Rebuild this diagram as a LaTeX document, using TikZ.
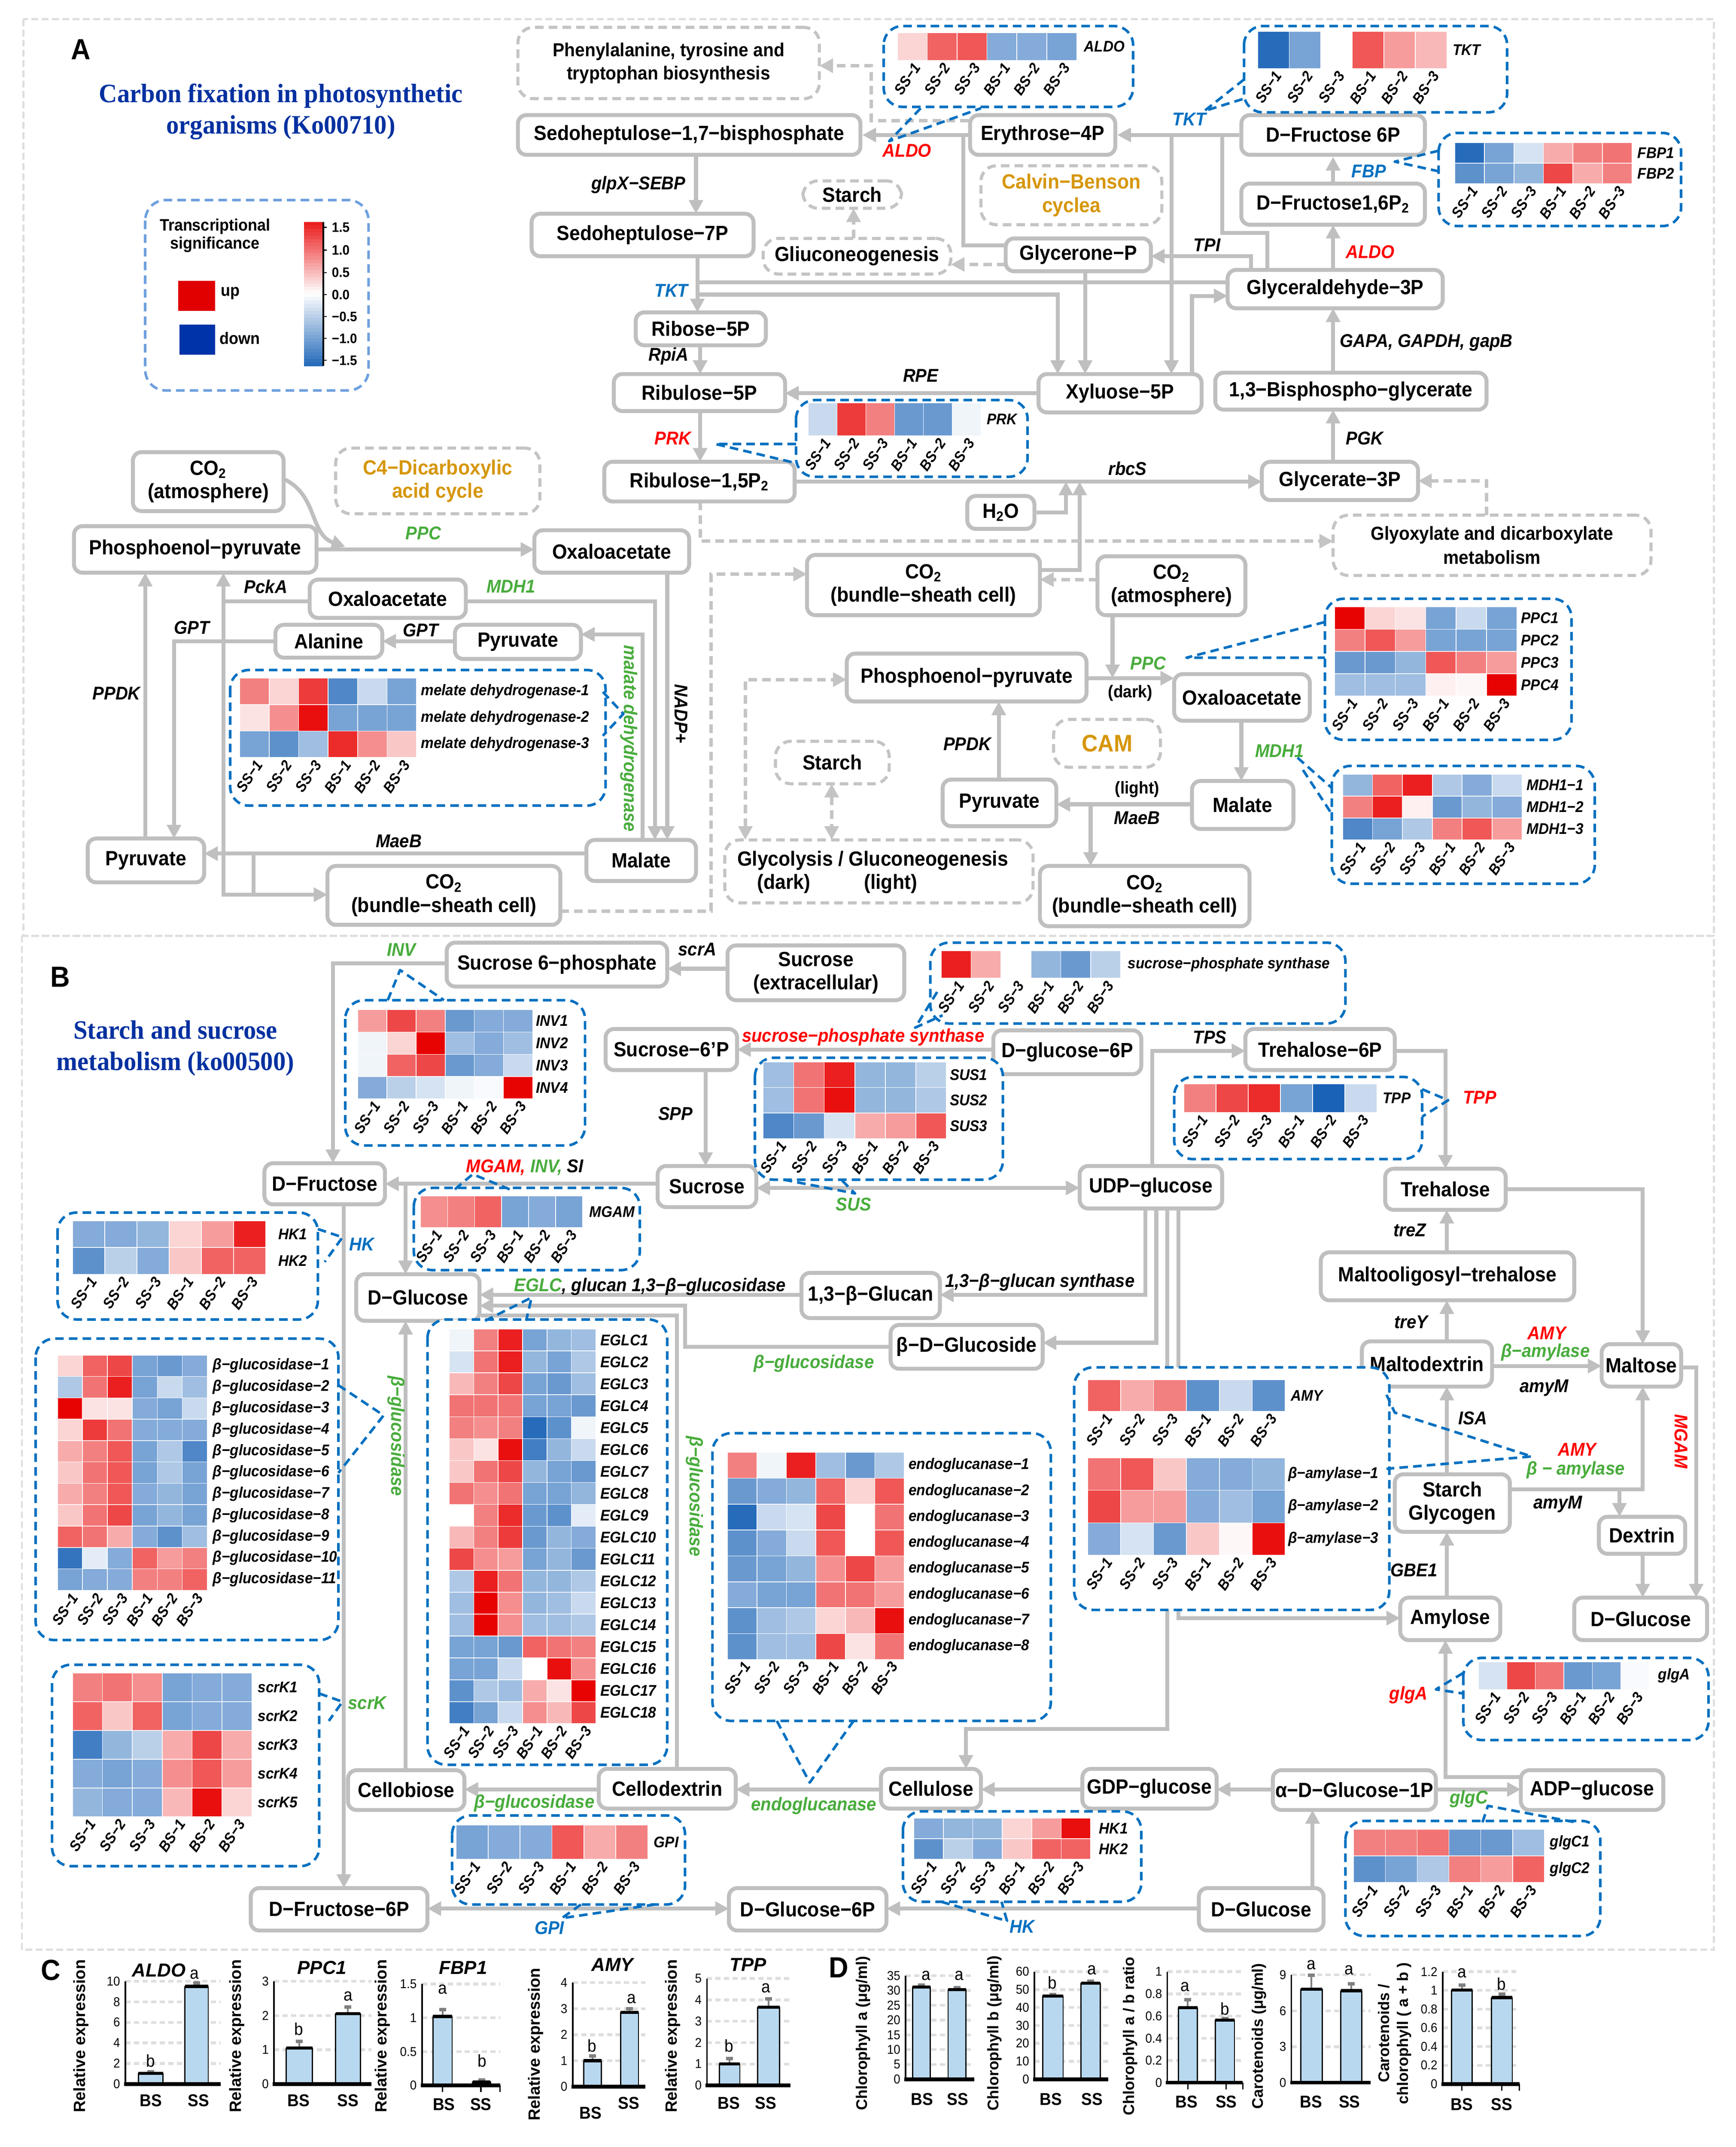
\documentclass[tikz,border=0pt]{standalone}
\usepackage{fontspec}
\setmainfont{Liberation Sans}[FakeStretch=0.93]
\newfontfamily\wide{Liberation Sans}
\newfontfamily\tnr{Liberation Serif}[FakeStretch=0.95]
\usetikzlibrary{arrows.meta,backgrounds}
\definecolor{bgray}{RGB}{191,191,191}
\definecolor{dgray}{RGB}{196,196,196}
\definecolor{fgray}{RGB}{222,222,222}
\definecolor{hblue}{RGB}{0,112,192}
\definecolor{lblue}{RGB}{110,160,222}
\definecolor{tblue}{RGB}{0,48,160}
\definecolor{gold}{RGB}{214,150,10}
\definecolor{egreen}{RGB}{72,172,60}
\definecolor{ered}{RGB}{255,0,0}
\definecolor{eblue}{RGB}{0,112,192}
\definecolor{hr}{RGB}{232,0,0}
\definecolor{hb}{RGB}{10,88,178}
\definecolor{upred}{RGB}{224,0,0}
\definecolor{dnblue}{RGB}{0,51,170}
\definecolor{barblue}{RGB}{184,216,240}
\definecolor{errc}{RGB}{128,128,128}
\newcommand\B[7]{\node[#1, minimum width={(#5-#3)*0.8pt}, minimum height={(#6-#4)*0.8pt}] (#2) at ({(#3+#5)/2},{(#4+#6)/2}) {#7};}
\newcommand\E[4][]{\node[enz,#1] (#2) at (#3) {#4};}
\newcommand\heat[5]{%
  \foreach \hmrow [count=\hmr] in {#5} {%
    \foreach \hmv [count=\hmc] in \hmrow {%
      \pgfmathtruncatemacro\hmA{round(abs(\hmv)*11)}%
      \ifdim\hmv pt<0pt\def\hmC{hb}\else\def\hmC{hr}\fi
      \path[fill=\hmC!\hmA!white, draw=white, line width=0.4pt] ({#1+(\hmc-1)*#3},{#2+(\hmr-1)*#4}) rectangle ++(#3,#4);
    }%
  }%
}
\newcommand\rowlabs[5]{\foreach \hmt [count=\hmi] in {#4} {\node[hl] (#5r\hmi) at (#1,{#2+(\hmi-0.5)*#3}) {\hmt};}}
\newcommand\collabs[4]{\foreach \hmt [count=\hmi] in {SS−1,SS−2,SS−3,BS−1,BS−2,BS−3} {\node[cl] (#4c\hmi) at ({#1+(\hmi-0.5)*#3+3.5},#2) {\hmt};}}
\newcommand\cgrid[4]{%
  \foreach \hmt [count=\hmi] in {#3} {%
    \pgfmathsetmacro\yy{\Yz-(\hmt)/\Vm*(\Yz-\Yt)}%
    \draw[gridl] (#1,\yy) -- (#2,\yy);
    \node[tk] (#4t\hmi) at (#1-3,\yy) {\hmt};
  }}
\newcommand\axl[2]{\draw[line width=0.9pt] (#1,\Yt) -- (#1,\Yz); \draw[line width=2.2pt] (#1-1,\Yz) -- (#2,\Yz);}
\newcommand\vbar[4]{%
  \pgfmathsetmacro\yv{\Yz-(#3)/\Vm*(\Yz-\Yt)}%
  \pgfmathsetmacro\ye{\Yz-(#4)/\Vm*(\Yz-\Yt)}%
  \pgfmathsetmacro\xm{(#1+#2)/2}%
  \draw[errc, line width=1pt] (\xm,\yv) -- (\xm,\ye);
  \draw[errc, line width=2pt] (\xm-2.5,\ye) -- (\xm+2.5,\ye);
  \path[fill=barblue, draw=black, line width=0.7pt] (#1,\Yz) rectangle (#2,\yv);
  \draw[line width=1.8pt] (#1,\yv) -- (#2,\yv);}
\begin{document}
\begin{tikzpicture}[x=0.8pt,y=-0.8pt,line join=round,
  box/.style={draw=bgray, line width=2.3pt, rounded corners=5pt, fill=white, align=center, inner sep=0pt, font=\fontsize{12}{13.6}\selectfont\bfseries},
  gbox/.style={box, draw=dgray, dash pattern=on 5pt off 3pt, line width=1.8pt, rounded corners=9pt},
  ln/.style={draw=bgray, line width=2.3pt},
  arr/.style={ln, -{Triangle[length=8pt,width=8pt]}},
  arrboth/.style={ln, {Triangle[length=8pt,width=8pt]}-{Triangle[length=8pt,width=8pt]}},
  dln/.style={draw=dgray, line width=2pt, dash pattern=on 5pt off 3pt},
  darr/.style={dln, -{Triangle[length=8pt,width=8pt]}},
  dboth/.style={dln, {Triangle[length=8pt,width=8pt]}-{Triangle[length=8pt,width=8pt]}},
  enz/.style={font=\fontsize{10.8}{12}\selectfont\bfseries\itshape, inner sep=0pt},
  hbox/.style={draw=hblue, line width=1.5pt, dash pattern=on 5pt off 3pt, rounded corners=11pt, fill=white},
  lbox/.style={draw=lblue, line width=1.5pt, dash pattern=on 5pt off 3pt, rounded corners=12pt},
  call/.style={draw=hblue, line width=1.5pt, dash pattern=on 5pt off 3pt},
  hl/.style={font=\fontsize{9}{10}\selectfont\bfseries\itshape, inner sep=0pt, anchor=west},
  cl/.style={font=\fontsize{8.7}{9.5}\selectfont\bfseries\itshape, inner sep=0pt, rotate=56, anchor=east},
  pframe/.style={draw=fgray, line width=1.2pt, dash pattern=on 4pt off 2pt},
  ctitle/.style={font=\wide\fontsize{11}{12}\selectfont\bfseries\itshape, inner sep=0pt},
  letr/.style={font=\fontsize{10}{11}\selectfont, inner sep=0pt},
  ytit/.style={font=\wide\fontsize{9.5}{10}\selectfont\bfseries, rotate=90, inner sep=0pt, align=center},
  dytit/.style={ytit, font=\wide\fontsize{9}{11}\selectfont\bfseries},
  xl/.style={font=\fontsize{10}{11}\selectfont\bfseries, inner sep=0pt},
  tk/.style={font=\fontsize{7.5}{8}\selectfont, anchor=east, inner sep=0.5pt},
  gridl/.style={draw=fgray, line width=1.6pt, dash pattern=on 3pt off 2pt},
  lab/.style={font=\fontsize{17}{17}\selectfont\bfseries, inner sep=0pt},
  ttl/.style={font=\tnr\fontsize{15.5}{18.4}\selectfont\bfseries, text=tblue, align=center, inner sep=0pt}]
\useasboundingbox (0,0) rectangle (1267,1567);

% ================= PANEL A =================
\node[lab] (labA) at (59,36) {A};
\node[ttl] (titA) at (205,81.5) {Carbon fixation in photosynthetic\\organisms (Ko00710)};
% legend
\draw[lbox] (106,146) rectangle (269,285);
\node[font=\fontsize{9.7}{10.5}\selectfont\bfseries, align=center, inner sep=0pt] (legT) at (157,172) {Transcriptional\\significance};
\fill[upred] (130,205) rectangle (157,227);
\fill[dnblue] (131,237) rectangle (157,259);
\node[font=\fontsize{9.7}{10}\selectfont\bfseries, anchor=west, inner sep=0pt] (legU) at (161,214) {up};
\node[font=\fontsize{9.7}{10}\selectfont\bfseries, anchor=west, inner sep=0pt] (legD) at (160,247) {down};
\foreach \k in {0,...,41} {
  \pgfmathsetmacro\gv{1.5-(\k+0.5)*3/42}
  \pgfmathtruncatemacro\gA{round(abs(\gv)/1.5*90)}
  \ifdim\gv pt<0pt\def\gC{hb}\else\def\gC{hr}\fi
  \fill[\gC!\gA!white] (222,{162+\k*2.5}) rectangle (236,{162+(\k+1)*2.5+0.3});
}
\draw[line width=0.8pt] (236,162) -- (236,267);
\foreach \yy/\tt [count=\q] in {166/1.5,182.5/1.0,199/0.5,215/0.0,231/−0.5,247/−1.0,263/−1.5} {
  \draw[line width=0.6pt] (236,\yy) -- (238.5,\yy);
  \node[font=\fontsize{8}{9}\selectfont\bfseries, anchor=west, inner sep=0pt] (legt\q) at (242,\yy) {\tt};
}

% nodes A
\B{gbox,font=\fontsize{11}{13.5}\selectfont\bfseries}{phe}{378}{20}{598}{72}{Phenylalanine, tyrosine and\\tryptophan biosynthesis}
\B{box}{sbp}{378}{84}{628}{113}{Sedoheptulose−1,7−bisphosphate}
\B{box}{ery}{708}{84}{814}{113}{Erythrose−4P}
\B{box}{f6p}{906}{84}{1040}{113}{D−Fructose 6P}
\B{box}{fbp2}{906}{134}{1040}{164}{D−Fructose1,6P\textsubscript{2}}
\B{box}{g3p}{896}{197}{1053}{225}{Glyceraldehyde−3P}
\B{box}{bpg}{887}{272}{1085}{299}{1,3−Bisphospho−glycerate}
\B{box}{gly3p}{921}{337}{1035}{365}{Glycerate−3P}
\B{gbox,font=\fontsize{11}{14}\selectfont\bfseries}{glyox}{973}{376}{1205}{420}{Glyoxylate and dicarboxylate\\metabolism}
\B{gbox,text=gold}{calvin}{716}{121}{848}{164}{Calvin−Benson\\cyclea}
\B{gbox}{starA}{586}{132}{658}{152}{Starch}
\B{gbox}{glucon}{557}{174}{694}{200}{Gliuconeogenesis}
\B{box}{gp}{734}{174}{840}{198}{Glycerone−P}
\B{box}{s7p}{388}{156}{550}{187}{Sedoheptulose−7P}
\B{box}{r5p}{464}{228}{559}{252}{Ribose−5P}
\B{box}{ru5p}{448}{273}{573}{300}{Ribulose−5P}
\B{box}{x5p}{758}{273}{877}{301}{Xyluose−5P}
\B{box}{rubp}{441}{337}{580}{366}{Ribulose−1,5P\textsubscript{2}}
\B{box}{h2o}{706}{362}{755}{386}{H\textsubscript{2}O}
\B{box}{co2a}{97}{330}{207}{373}{CO\textsubscript{2}\\(atmosphere)}
\B{gbox,text=gold}{c4}{245}{327}{394}{375}{C4−Dicarboxylic\\acid cycle}
\B{box}{pepL}{54}{384}{231}{418}{Phosphoenol−pyruvate}
\B{box}{oaaU}{390}{387}{503}{418}{Oxaloacetate}
\B{box}{oaaL}{226}{423}{340}{451}{Oxaloacetate}
\B{box}{ala}{201}{456}{279}{480}{Alanine}
\B{box}{pyrM}{332}{456}{424}{481}{Pyruvate}
\B{box}{pyrL}{64}{612}{149}{644}{Pyruvate}
\B{box}{malL}{428}{613}{508}{643}{Malate}
\B{box}{co2bsL}{239}{632}{409}{675}{CO\textsubscript{2}\\(bundle−sheath cell)}
\B{box}{co2bsM}{589}{405}{759}{449}{CO\textsubscript{2}\\(bundle−sheath cell)}
\B{box}{co2aM}{801}{406}{909}{449}{CO\textsubscript{2}\\(atmosphere)}
\B{box}{pepR}{618}{477}{793}{512}{Phosphoenol−pyruvate}
\B{box}{oaaR}{857}{492}{956}{526}{Oxaloacetate}
\B{gbox,text=gold,font=\fontsize{14}{16}\selectfont\bfseries}{cam}{769}{525}{847}{560}{CAM}
\B{gbox}{starB}{566}{541}{649}{572}{Starch}
\B{box}{pyrR}{688}{569}{771}{603}{Pyruvate}
\B{box}{malR}{870}{570}{944}{605}{Malate}
\B{gbox}{glyc}{529}{613}{754}{659}{}
\node[font=\fontsize{12}{13}\selectfont\bfseries, inner sep=0pt] (glyct1) at (637,628) {Glycolysis / Gluconeogenesis};
\node[font=\fontsize{12}{13}\selectfont\bfseries, inner sep=0pt] (glyct2) at (572,645) {(dark)};
\node[font=\fontsize{12}{13}\selectfont\bfseries, inner sep=0pt] (glyct3) at (650,645) {(light)};
\B{box}{co2bsR}{759}{632}{912}{676}{CO\textsubscript{2}\\(bundle−sheath cell)}

% enzyme labels A
\E{eglpx}{466,135}{glpX−SEBP}
\E[text=ered]{ealdo1}{662,110}{ALDO}
\E[text=eblue]{etkt1}{868,87}{TKT}
\E[text=eblue]{efbp}{999,125}{FBP}
\E{etpi}{881,179}{TPI}
\E[text=ered]{ealdo2}{1000,184}{ALDO}
\E{egap}{1041,250}{GAPA, GAPDH, gapB}
\E{epgk}{996,320}{PGK}
\E[text=eblue]{etkt2}{490,212}{TKT}
\E{erpia}{488,260}{RpiA}
\E{erpe}{672,274}{RPE}
\E[text=ered]{eprk}{491,320}{PRK}
\E{erbcs}{823,342}{rbcS}
\E[text=egreen]{eppc1}{309,389}{PPC}
\E{epcka}{194,428}{PckA}
\E[text=egreen]{emdh1}{373,428}{MDH1}
\E{egpt1}{140,458}{GPT}
\E{egpt2}{307,460}{GPT}
\E{eppdk1}{85,506}{PPDK}
\E[rotate=-90]{enadp}{497,521}{NADP+}
\E[rotate=-90,text=egreen]{emdhr}{459,539}{malate dehydrogenase}
\E{emaeb1}{291,614}{MaeB}
\E[text=egreen]{eppc2}{838,484}{PPC}
\node[font=\fontsize{10}{11}\selectfont\bfseries, inner sep=0pt] (edark) at (825,506) {(dark)};
\E[text=egreen]{emdh2}{934,548}{MDH1}
\node[font=\fontsize{10}{11}\selectfont\bfseries, inner sep=0pt] (elight) at (830,576) {(light)};
\E{emaeb2}{830,597}{MaeB}
\E{eppdk2}{706,543}{PPDK}

% heatmaps A
\draw[hbox] (645,19) rectangle (827,78);
\heat{655}{24}{21.8}{20}{{1.5,5.5,6,-4.5,-4.5,-5}}
\rowlabs{791}{24}{20}{ALDO}{aldo}
\collabs{655}{47}{21.8}{aldo}
\draw[call] (672,79) -- (649,103) -- (716,79);

\draw[hbox] (908,19) rectangle (1100,82);
\heat{918}{23}{23}{27}{{-8,-5,0,6,3.5,2.5}}
\rowlabs{1060}{23}{27}{TKT}{tkt}
\collabs{918}{53}{23}{tkt}
\draw[call] (908,58) -- (879,81) -- (908,72);

\draw[hbox] (1050,97) rectangle (1227,165);
\heat{1062}{104}{21.5}{15}{{-8,-5,-1.5,3,4.5,5},{-6,-5,-4,6.5,3,4.5}}
\rowlabs{1195}{104}{15}{FBP1,FBP2}{fbp}
\collabs{1062}{137}{21.5}{fbp}
\draw[call] (1050,110) -- (1018,118) -- (1050,125);

\draw[hbox] (581,292) rectangle (750,348);
\heat{590}{294}{21}{24}{{-2,7,4.5,-5.5,-5.5,-0.5}}
\rowlabs{720}{294}{24}{PRK}{prk}
\collabs{590}{321}{21}{prk}
\draw[call] (581,324) -- (522,324) -- (581,338);

\draw[hbox] (168,489) rectangle (442,588);
\heat{175}{495}{21.5}{19.3}{{4.5,1.5,7,-6.5,-2,-5},{1,4,8.5,-5,-5,-5},{-5,-6,-3.5,7.5,4,2}}
\rowlabs{307}{495}{19.3}{melate dehydrogenase-1,melate dehydrogenase-2,melate dehydrogenase-3}{mdh}
\collabs{175}{556}{21.5}{mdh}
\draw[call] (440,505) -- (455,521) -- (440,537);

\draw[hbox] (967,437) rectangle (1147,540);
\heat{974}{443}{22.2}{16.25}{{9,1.5,1,-5,-2,-5},{4.5,6,3.5,-5,-5,-5},{-5.5,-5.5,-4,6,4.5,3.5},{-3.5,-3.5,-3.5,0.5,0.3,9}}
\rowlabs{1110}{443}{16.25}{PPC1,PPC2,PPC3,PPC4}{ppc}
\collabs{974}{511}{22.2}{ppc}
\draw[call] (967,454) -- (866,480) -- (967,480);

\draw[hbox] (972,559) rectangle (1164,645);
\heat{980}{565}{21.8}{16}{{-4,5.5,8,-3,-4.5,-2},{4.5,8,0.5,-5.5,-4,-4.5},{-6.5,-5,-3,4.5,6,3.5}}
\rowlabs{1114}{565}{16}{MDH1−1,MDH1−2,MDH1−3}{mdhb}
\collabs{980}{616}{21.8}{mdhb}
\draw[call] (947,553) -- (972,575);
\draw[call] (951,562) -- (972,594);

% ================= PANEL B =================
\node[lab] (labB) at (44,713) {B};
\node[ttl] (titB) at (128,765) {Starch and sucrose\\metabolism (ko00500)};

\B{box}{s6p}{326}{688}{487}{720}{Sucrose 6−phosphate}
\B{box}{sucex}{531}{690}{660}{730}{Sucrose\\(extracellular)}
\B{box}{sucp}{442}{751}{538}{781}{Sucrose−6’P}
\B{box}{dg6p}{725}{752}{833}{784}{D−glucose−6P}
\B{box}{t6p}{909}{751}{1018}{781}{Trehalose−6P}
\B{box}{dfru}{193}{849}{281}{879}{D−Fructose}
\B{box}{suc}{480}{851}{552}{881}{Sucrose}
\B{box}{udpg}{788}{851}{892}{882}{UDP−glucose}
\B{box}{treh}{1011}{853}{1099}{883}{Trehalose}
\B{box}{dglu}{260}{930}{350}{964}{D−Glucose}
\B{box}{mot}{964}{914}{1149}{949}{Maltooligosyl−trehalose}
\B{box}{glucan}{585}{929}{686}{962}{1,3−β−Glucan}
\B{box}{bdg}{650}{967}{761}{999}{β−D−Glucoside}
\B{box}{mdex}{994}{979}{1089}{1012}{Maltodextrin}
\B{box}{malt}{1169}{981}{1227}{1012}{Maltose}
\B{box}{starch}{1018}{1076}{1102}{1118}{Starch\\Glycogen}
\B{box}{dext}{1167}{1107}{1230}{1134}{Dextrin}
\B{box}{amyl}{1022}{1166}{1095}{1197}{Amylose}
\B{box}{dgluR}{1149}{1166}{1246}{1197}{D−Glucose}
\B{box}{cbio}{254}{1292}{339}{1321}{Cellobiose}
\B{box}{cdex}{437}{1291}{537}{1320}{Cellodextrin}
\B{box}{cell}{643}{1291}{716}{1320}{Cellulose}
\B{box}{gdpg}{790}{1291}{888}{1320}{GDP−glucose}
\B{box}{ag1p}{929}{1292}{1048}{1321}{α−D−Glucose−1P}
\B{box}{adpg}{1110}{1292}{1214}{1321}{ADP−glucose}
\B{box}{df6p}{183}{1378}{312}{1409}{D−Fructose−6P}
\B{box}{dg6pb}{532}{1378}{647}{1409}{D−Glucose−6P}
\B{box}{dglub}{875}{1378}{966}{1409}{D−Glucose}

% enzyme labels B
\E[text=egreen]{einv}{293,693}{INV}
\E{escra}{509,693}{scrA}
\E[text=ered]{esps}{630,757}{sucrose−phosphate synthase}
\E{etps}{883,757}{TPS}
\E{espp}{493,813}{SPP}
\E[text=ered]{etpp}{1080,801}{TPP}
\E{emgam}{383,852}{\textcolor{ered}{MGAM,} \textcolor{egreen}{INV,} SI}
\E[text=egreen]{esus}{623,879}{SUS}
\E[text=eblue]{ehk1}{264,908}{HK}
\E[anchor=west]{eeglc}{375,939}{\textcolor{egreen}{EGLC}, glucan 1,3−β−glucosidase}
\E{eglsyn}{759,936}{1,3−β−glucan synthase}
\E[text=egreen]{ebglu1}{594,995}{β−glucosidase}
\E{etrez}{1029,898}{treZ}
\E{etrey}{1030,965}{treY}
\E[text=ered]{eamy1}{1129,973}{AMY}
\E[text=egreen]{ebam1}{1128,987}{β−amylase}
\E{eamym1}{1127,1013}{amyM}
\E{eisa}{1075,1035}{ISA}
\E[text=ered]{eamy2}{1151,1058}{AMY}
\E[text=egreen]{ebam2}{1150,1073}{β − amylase}
\E{eamym2}{1137,1098}{amyM}
\E[rotate=-90,text=ered]{emgam2}{1227,1052}{MGAM}
\E{egbe}{1032,1146}{GBE1}
\E[rotate=-90,text=egreen]{ebglu2}{289,1048}{β−glucosidase}
\E[rotate=-90,text=egreen]{ebglu3}{507,1092}{β−glucosidase}
\E[text=egreen]{escrk}{268,1243}{scrK}
\E[text=ered]{eglga}{1028,1237}{glgA}
\E[text=egreen]{eglgc}{1072,1313}{glgC}
\E[text=egreen]{ebglu4}{390,1316}{β−glucosidase}
\E[text=egreen]{eendo}{594,1318}{endoglucanase}
\E[text=eblue]{egpi}{401,1407}{GPI}
\E[text=eblue]{ehk2}{746,1406}{HK}

% heatmaps B
\draw[hbox] (252,730) rectangle (427,836);
\heat{261}{737}{21.3}{16.25}{{3.5,6.5,4.5,-5.5,-4.5,-4.5},{-0.5,1.5,9,-3.5,-4.5,-3.5},{-0.5,5.5,6.5,-5.5,-4.5,-2},{-4.5,-2.5,-1.5,-0.5,-0.3,9}}
\rowlabs{391}{737}{16.25}{INV1,INV2,INV3,INV4}{inv}
\collabs{261}{805}{21.3}{inv}
\draw[call] (283,730) -- (292,708) -- (324,730);

\draw[hbox] (679,688) rectangle (982,747);
\heat{687}{694}{21.8}{20}{{8,3,0,-4,-5.5,-2.5}}
\rowlabs{823}{694}{20}{sucrose−phosphate synthase}{sps}
\collabs{687}{717}{21.8}{sps}
\draw[call] (684,724) -- (668,750) -- (688,741);

\draw[hbox] (551,772) rectangle (732,861);
\heat{557}{775}{22.3}{18.7}{{-3.5,5,8,-4,-4,-2.5},{-3.5,5,8.5,-4,-4,-3},{-6.5,-5.5,-1.5,3,3.5,6}}
\rowlabs{693}{775}{18.7}{SUS1,SUS2,SUS3}{sus}
\collabs{557}{834}{22.3}{sus}
\draw[call] (572,861) -- (624,871) -- (614,861);

\draw[hbox] (857,786) rectangle (1038,846);
\heat{864}{791}{23.5}{21}{{4.5,6.5,7.5,-5,-8.5,-2}}
\rowlabs{1009}{791}{21}{TPP}{tpp}
\collabs{864}{815}{23.5}{tpp}
\draw[call] (1038,795) -- (1057,803) -- (1038,815);

\draw[hbox] (302,867) rectangle (467,927);
\heat{307}{873}{19.7}{23}{{4,4.5,5.5,-5,-4.5,-5}}
\rowlabs{430}{873}{23}{MGAM}{mgam}
\collabs{307}{899}{19.7}{mgam}
\draw[call] (332,868) -- (345,857) -- (372,868);

\draw[hbox] (42,885) rectangle (232,963);
\heat{53}{891}{23.5}{19.5}{{-4.5,-4.5,-4,1.5,3.5,8},{-6,-2.5,-4.5,2,5.5,5.5}}
\rowlabs{203}{891}{19.5}{HK1,HK2}{hka}
\collabs{53}{933}{23.5}{hka}
\draw[call] (232,897) -- (250,903) -- (237,921);

\draw[hbox] (26,977) rectangle (247,1197);
\heat{42}{989}{18.2}{15.6}{{1.5,5.5,6.5,-5,-5.5,-4.5},{-3,5,8,-5,-2,-3.5},{9,1,1,-4.5,-5,-2},{1.5,7,5,-4.5,-4.5,-4.5},{3,4.5,6,-5,-3,-6.5},{2,5,6,-5,-3,-5},{3,4.5,6,-4.5,-4,-5},{2,5,6.5,-5,-4,-5},{5.5,5,3,-4.5,-6,-3.5},{-7.5,-1,-4.5,5.5,3.5,4.5},{-5,-4.5,-4.5,4.5,4.5,5.5}}
\rowlabs{155}{989}{15.6}{β−glucosidase−1,β−glucosidase−2,β−glucosidase−3,β−glucosidase−4,β−glucosidase−5,β−glucosidase−6,β−glucosidase−7,β−glucosidase−8,β−glucosidase−9,β−glucosidase−10,β−glucosidase−11}{bglu}
\collabs{42}{1164}{18.2}{bglu}
\draw[call] (247,1011) -- (280,1033) -- (247,1075);

\draw[hbox] (312,963) rectangle (487,1288);
\heat{328}{970}{17.8}{16}{{-0.5,4.5,8,-5,-4,-3.5},{-1.5,5,8,-4,-5,-3},{2.5,4.5,6.5,-5,-5.5,-3.5},{5,5,5,-5,-5,-5.5},{4.5,4,4.5,-8,-6,-0.5},{2,1,8.5,-7,-4,-2},{2,5,6.5,-4,-5,-5.5},{5,4,5,-5,-5,-4},{0,4.5,7.5,-5.5,-6,-1},{2.5,4.5,7,-5.5,-4,-4.5},{6.5,4,3.5,-5,-4,-5.5},{-3,8,5,-4,-4,-3},{-3.5,9,4,-4,-3.5,-2},{-3.5,9,4,-3.5,-3.5,-3},{-5,-5,-5.5,5.5,5,4.5},{-5,-5,-2,0,8.5,4},{-6,-3,-3.5,3,1,9},{-7,-5,-2,4,2.5,6.5}}
\rowlabs{438}{970}{16}{EGLC1,EGLC2,EGLC3,EGLC4,EGLC5,EGLC6,EGLC7,EGLC8,EGLC9,EGLC10,EGLC11,EGLC12,EGLC13,EGLC14,EGLC15,EGLC16,EGLC17,EGLC18}{eglc}
\collabs{328}{1261}{17.8}{eglc}
\draw[call] (354,964) -- (388,947) -- (384,964);

\draw[hbox] (520,1046) rectangle (767,1256);
\heat{531}{1060}{21.5}{18.9}{{4.5,-0.5,8,-3.5,-5.5,-3},{-5.5,-4.5,-4,5.5,1.5,6},{-8,-2,-1.5,6.5,0,5},{-6,-4.5,-2,6,0,6},{-5.5,-5,-4,4,6.5,3.5},{-4.5,-5,-5,5,5,3.5},{-6,-3.5,-3,1.5,2.5,8.5},{-6,-3.5,-3.5,6.5,1,5}}
\rowlabs{663}{1060}{18.9}{endoglucanase−1,endoglucanase−2,endoglucanase−3,endoglucanase−4,endoglucanase−5,endoglucanase−6,endoglucanase−7,endoglucanase−8}{endo}
\collabs{531}{1214}{21.5}{endo}
\draw[call] (567,1256) -- (591,1301) -- (623,1256);

\draw[hbox] (784,998) rectangle (1014,1175);
\heat{794}{1007}{24}{23}{{5.5,3,4.5,-6,-2,-6}}
\rowlabs{942}{1007}{23}{AMY}{amy}
\collabs{794}{1033}{24}{amy}
\heat{794}{1064}{24}{23.7}{{5,6,2,-4.5,-4.5,-4},{6.5,3.5,3.5,-4.5,-3.5,-5},{-4.5,-1.5,-5.5,2,0.3,8.5}}
\rowlabs{940}{1064}{23.7}{β−amylase−1,β−amylase−2,β−amylase−3}{bam}
\collabs{794}{1138}{24}{bam}
\draw[call] (1012,1018) -- (1018,1031) -- (1118,1063) -- (1012,1072);

\draw[hbox] (1068,1210) rectangle (1247,1270);
\heat{1079}{1213}{20.8}{20}{{-1.5,6.5,5,-5.5,-5,-0.3}}
\rowlabs{1210}{1213}{20}{glgA}{glga}
\collabs{1079}{1236}{20.8}{glga}
\draw[call] (1068,1221) -- (1048,1233) -- (1068,1236);

\draw[hbox] (38,1215) rectangle (233,1362);
\heat{53}{1221}{21.8}{21}{{4.5,5,4,-5,-4.5,-4.5},{5.5,2,5.5,-5,-4.5,-4.5},{-7,-4,-2.5,3,6.5,3},{-4.5,-5,-4.5,4,6,3.5},{-4,-4.5,-4.5,2.5,8.5,1.5}}
\rowlabs{188}{1221}{21}{scrK1,scrK2,scrK3,scrK4,scrK5}{scrk}
\collabs{53}{1329}{21.8}{scrk}
\draw[call] (233,1236) -- (250,1242) -- (240,1256);

\draw[hbox] (330,1325) rectangle (500,1390);
\heat{333}{1332}{23.3}{25}{{-5,-4.5,-4.5,6,3,4.5}}
\rowlabs{477}{1332}{25}{GPI}{gpi}
\collabs{333}{1360}{23.3}{gpi}
\draw[call] (424,1390) -- (410,1400) -- (478,1390);

\draw[hbox] (659,1322) rectangle (833,1388);
\heat{667}{1327}{21.5}{15}{{-4.5,-4,-4,1.5,3.5,8.5},{-6,-2.5,-4.5,2,5.5,5.5}}
\rowlabs{802}{1327}{15}{HK1,HK2}{hkb}
\collabs{667}{1360}{21.5}{hkb}
\draw[call] (687,1388) -- (735,1402) -- (731,1388);

\draw[hbox] (982,1329) rectangle (1168,1413);
\heat{988}{1335}{23.2}{19.5}{{4.5,4.5,5,-5.5,-5.5,-3.5},{-6,-5,-3,4.5,3.5,5.5}}
\rowlabs{1131}{1335}{19.5}{glgC1,glgC2}{glgc}
\collabs{988}{1377}{23.2}{glgc}
\draw[call] (1082,1330) -- (1086,1318) -- (1150,1330);

% ================= CONNECTORS (background) =================
\begin{scope}[on background layer]
\fill[white] (0,0) rectangle (1267,1567);
\draw[pframe] (17,14) rectangle (1251,683);
\draw[pframe] (16,683) rectangle (1251,1423);
% A
\draw[arr] (ery.west) -- (sbp.east);
\draw[ln] (734,179) -- (703,179) -- (703,98.5);
\draw[darr] (707,88) -- (636,88) -- (636,48) -- (598,48);
\draw[arr] (508,113) -- (508,156);
\draw[darr] (623,174) -- (623,152);
\draw[darr] (734,193) -- (694,193);
\draw[arr] (509,187) -- (509,228);
\draw[ln] (896,206) -- (509,206);
\draw[arr] (509,215) -- (772,215) -- (772,273);
\draw[arr] (792,198) -- (792,273);
\draw[arr] (f6p.west) -- (ery.east);
\draw[ln] (925,197) -- (925,170) -- (892,170) -- (892,98.5);
\draw[arr] (855,98.5) -- (855,273);
\draw[arr] (870,273) -- (870,216) -- (896,216);
\draw[arr] (913,197) -- (913,187) -- (840,187);
\draw[arr] (fbp2.north) -- (f6p.south);
\draw[arr] (973,197) -- (973,164);
\draw[arr] (973,272) -- (973,225);
\draw[arr] (973,337) -- (973,299);
\draw[arr] (511,252) -- (511,273);
\draw[arr] (x5p.west) -- (573,287);
\draw[arr] (511,300) -- (511,337);
\draw[arr] (rubp.east) -- (921,351.5);
\draw[arr] (h2o.east) -- (778,374) -- (778,351.5);
\draw[arr] (759,416) -- (788,416) -- (788,351.5);
\draw[darr] (801,423) -- (759,423);
\draw[arr] (812,449) -- (812,495);
\draw[arr] (793,495) -- (857,495);
\draw[arr] (906,526) -- (906,570);
\draw[arr] (870,587) -- (771,587);
\draw[arr] (796,587) -- (796,632);
\draw[arr] (729,569) -- (729,512);
\draw[dboth] (607,572) -- (607,613);
\draw[darr] (409,665) -- (519,665) -- (519,419) -- (589,419);
\draw[dboth] (544,613) -- (544,496) -- (618,496);
\draw[darr] (511,366) -- (511,395) -- (973,395);
\draw[darr] (1085,376) -- (1085,351) -- (1035,351);
\draw[arr] (208,350) .. controls (232,362) and (226,390) .. (252,399);
\draw[arr] (231,401) -- (390,401);
\draw[arr] (487,418) -- (487,613);
\draw[arr] (340,439) -- (478,439) -- (478,613);
\draw[arr] (226,439) -- (163,439) -- (163,418);
\draw[arr] (163,439) -- (163,653) -- (239,653);
\draw[arr] (332,468) -- (279,468);
\draw[arr] (201,468) -- (127,468) -- (127,612);
\draw[arr] (106,612) -- (106,418);
\draw[arr] (428,623) -- (149,623);
\draw[ln] (185,623) -- (185,653);
\draw[arr] (469,613) -- (469,463) -- (424,463);
% B
\draw[arr] (531,707) -- (487,707);
\draw[arr] (326,703) -- (243,703) -- (243,849);
\draw[arr] (515,781) -- (515,851);
\draw[arr] (725,766) -- (538,766);
\draw[arr] (841,851) -- (841,767) -- (909,767);
\draw[arr] (1018,767) -- (1055,767) -- (1055,853);
\draw[arrboth] (552,867) -- (788,867);
\draw[arr] (480,864) -- (281,864);
\draw[arr] (296,864) -- (296,930);
\draw[arr] (251,879) -- (251,1378);
\draw[arr] (296,1292) -- (296,964);
\draw[arr] (585,945) -- (350,945);
\draw[arr] (650,983) -- (500,983) -- (500,953) -- (350,953);
\draw[ln] (494,1291) -- (494,960) -- (351,960);
\draw[arr] (836,882) -- (836,945) -- (686,945);
\draw[arr] (844,882) -- (844,980) -- (761,980);
\draw[arr] (852,882) -- (852,1262) -- (705,1262) -- (705,1291);
\draw[arr] (860,882) -- (860,1181) -- (1022,1181);
\draw[arr] (1056,914) -- (1056,883);
\draw[arr] (1056,979) -- (1056,949);
\draw[arr] (1099,868) -- (1199,868) -- (1199,981);
\draw[arr] (1089,997) -- (1169,997);
\draw[arr] (1056,1076) -- (1056,1012);
\draw[arr] (1102,1087) -- (1199,1087) -- (1199,1012);
\draw[arr] (1182,1087) -- (1182,1107);
\draw[arr] (1199,1134) -- (1199,1166);
\draw[arr] (1227,998) -- (1238,998) -- (1238,1166);
\draw[arr] (1056,1166) -- (1056,1118);
\draw[arr] (1110,1297) -- (1055,1297) -- (1055,1197);
\draw[arr] (1048,1306) -- (1110,1306);
\draw[arr] (929,1306) -- (888,1306);
\draw[arr] (790,1306) -- (716,1306);
\draw[arr] (643,1306) -- (537,1306);
\draw[arr] (437,1306) -- (339,1306);
\draw[arr] (958,1378) -- (958,1321);
\draw[arr] (875,1393) -- (647,1393);
\draw[arrboth] (312,1393) -- (532,1393);
\end{scope}

% ================= PANEL C =================
\node[lab] (labC) at (37,1438) {C};
\def\Yz{1521}\def\Yt{1446}\def\Vm{10}
\cgrid{91.5}{161}{0,2,4,6,8,10}{ca}
\vbar{101}{119}{1.05}{1.2}
\vbar{135}{152}{9.5}{9.85}
\axl{91.5}{161}
\node[ctitle] (cat) at (116,1438) {ALDO};
\node[letr] (cab) at (110,1504) {b};
\node[letr] (caa) at (142,1441) {a};
\node[ytit] (cay) at (59,1486) {Relative expression};
\node[xl] (cax1) at (110,1533) {BS};
\node[xl] (cax2) at (145,1533) {SS};

\def\Yz{1521}\def\Yt{1446}\def\Vm{3}
\cgrid{200}{271}{0,1,2,3}{cb}
\vbar{209}{228}{1.05}{1.25}
\vbar{245}{263}{2.05}{2.25}
\axl{200}{271}
\node[ctitle] (cbt) at (235,1436) {PPC1};
\node[letr] (cbb) at (218,1481) {b};
\node[letr] (cba) at (254,1457) {a};
\node[ytit] (cby) at (173,1486) {Relative expression};
\node[xl] (cbx1) at (218,1533) {BS};
\node[xl] (cbx2) at (254,1533) {SS};

\def\Yz{1522}\def\Yt{1448}\def\Vm{1.5}
\cgrid{308}{365}{0,0.5,1,1.5}{cc}
\vbar{316}{330}{1.02}{1.12}
\vbar{345}{358}{0.05}{0.08}
\axl{308}{365}
\draw[line width=0.8pt] (323,1522) -- (323,1527) (351,1522) -- (351,1527) (365,1522) -- (365,1527);
\node[ctitle] (cct) at (338,1436) {FBP1};
\node[letr] (cca) at (323,1452) {a};
\node[letr] (ccb) at (352,1504) {b};
\node[ytit] (ccy) at (279,1486) {Relative expression};
\node[xl] (ccx1) at (324,1536) {BS};
\node[xl] (ccx2) at (351,1536) {SS};

\def\Yz{1523}\def\Yt{1447}\def\Vm{4}
\cgrid{418}{471}{0,1,2,3,4}{cd}
\vbar{426}{439}{1.0}{1.18}
\vbar{453}{466}{2.85}{3.0}
\axl{418}{471}
\node[ctitle] (cdt) at (447,1434) {AMY};
\node[letr] (cdb) at (432,1493) {b};
\node[letr] (cda) at (461,1459) {a};
\node[ytit] (cdy) at (391,1492) {Relative expression};
\node[xl] (cdx1) at (431,1542) {BS};
\node[xl] (cdx2) at (459,1535) {SS};

\def\Yz{1522}\def\Yt{1444}\def\Vm{5}
\cgrid{516}{577}{0,1,2,3,4,5}{ce}
\vbar{525}{540}{1.0}{1.25}
\vbar{553}{569}{3.65}{4.05}
\axl{516}{577}
\node[ctitle] (cet) at (546,1434) {TPP};
\node[letr] (ceb) at (532,1493) {b};
\node[letr] (cea) at (559,1451) {a};
\node[ytit] (cey) at (491,1486) {Relative expression};
\node[xl] (cex1) at (532,1535) {BS};
\node[xl] (cex2) at (559,1535) {SS};

% ================= PANEL D =================
\node[lab] (labD) at (612,1436) {D};
\def\Yz{1517.5}\def\Yt{1442}\def\Vm{35}
\cgrid{661}{711}{0,5,10,15,20,25,30,35}{da}
\vbar{666}{679}{31.2}{31.9}
\vbar{692}{705}{30.3}{31.0}
\axl{661}{711}
\node[letr] (daa1) at (676,1442) {a};
\node[letr] (daa2) at (700,1442) {a};
\node[dytit] (day) at (630,1484) {Chlorophyll a (μg/ml)};
\node[xl] (dax1) at (673,1532) {BS};
\node[xl] (dax2) at (699,1532) {SS};

\def\Yz{1517.5}\def\Yt{1439}\def\Vm{60}
\cgrid{755}{809}{0,10,20,30,40,50,60}{db}
\vbar{761}{776}{46.4}{47.3}
\vbar{789}{803}{53.5}{54.6}
\axl{755}{809}
\node[letr] (dbb) at (768,1447) {b};
\node[letr] (dba) at (797,1438) {a};
\node[dytit] (dby) at (726,1484) {Chlorophyll b (μg/ml)};
\node[xl] (dbx1) at (767,1532) {BS};
\node[xl] (dbx2) at (797,1532) {SS};

\def\Yz{1520}\def\Yt{1439}\def\Vm{1}
\cgrid{852}{907}{0,0.2,0.4,0.6,0.8,1}{dc}
\vbar{860}{874}{0.675}{0.748}
\vbar{887}{901}{0.564}{0.575}
\axl{852}{907}
\draw[line width=0.8pt] (867,1520) -- (867,1525) (895,1520) -- (895,1525) (907,1520) -- (907,1525);
\node[letr] (dca) at (865,1450) {a};
\node[letr] (dcb) at (894,1466) {b};
\node[dytit] (dcy) at (825,1486) {Chlorophyll a / b ratio};
\node[xl] (dcx1) at (866,1534) {BS};
\node[xl] (dcx2) at (895,1534) {SS};

\def\Yz{1520}\def\Yt{1441.4}\def\Vm{9}
\cgrid{942.6}{1000.5}{0,3,6,9}{dd}
\vbar{949.5}{965}{7.8}{8.98}
\vbar{978.7}{994}{7.68}{8.26}
\axl{942.6}{1000.5}
\node[letr] (dda1) at (957,1434) {a};
\node[letr] (dda2) at (984.5,1438) {a};
\node[dytit] (ddy) at (919,1486) {Carotenoids (μg/ml)};
\node[xl] (ddx1) at (957,1534) {BS};
\node[xl] (ddx2) at (985,1534) {SS};

\def\Yz{1521}\def\Yt{1439}\def\Vm{1.2}
\cgrid{1053}{1109}{0,0.2,0.4,0.6,0.8,1,1.2}{de}
\vbar{1059.5}{1074.6}{1.005}{1.057}
\vbar{1088.6}{1103.8}{0.923}{0.96}
\axl{1053}{1109}
\draw[line width=0.8pt] (1067,1521) -- (1067,1526) (1096,1521) -- (1096,1526) (1109,1521) -- (1109,1526);
\node[letr] (dea) at (1067,1440) {a};
\node[letr] (deb) at (1096,1448) {b};
\node[dytit] (dey) at (1018,1484) {Carotenoids /\\chlorophyll ( a + b )};
\node[xl] (dex1) at (1067,1536) {BS};
\node[xl] (dex2) at (1096,1536) {SS};
\end{tikzpicture}
\end{document}
